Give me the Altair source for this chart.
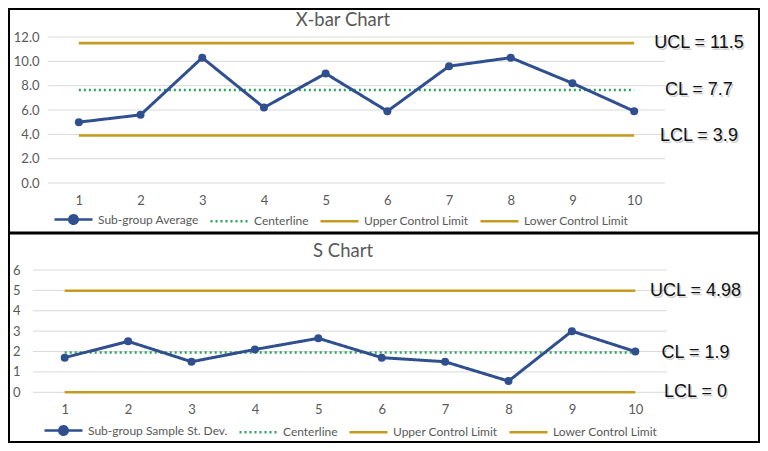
import altair as alt
import pandas as pd

# ---------------- data ----------------
subgroups = [1, 2, 3, 4, 5, 6, 7, 8, 9, 10]

xbar_avg = [5.0, 5.6, 10.3, 6.2, 9.0, 5.9, 9.6, 10.3, 8.2, 5.9]
xbar_ucl = 11.5
xbar_cl = 7.65
xbar_lcl = 3.9
xbar_ticks = [0, 2, 4, 6, 8, 10, 12]
xbar_series = ["Sub-group Average", "Centerline", "Upper Control Limit", "Lower Control Limit"]
xbar_labels = ["UCL = 11.5", "CL = 7.7", "LCL = 3.9"]

s_dev = [1.7, 2.5, 1.5, 2.1, 2.65, 1.7, 1.5, 0.55, 3.0, 2.0]
s_ucl = 4.98
s_cl = 1.95
s_lcl = 0.0
s_ticks = [0, 1, 2, 3, 4, 5, 6]
s_series = ["Sub-group Sample St. Dev.", "Centerline", "Upper Control Limit", "Lower Control Limit"]
s_labels = ["UCL = 4.98", "CL = 1.9", "LCL = 0"]

# ---------------- style ----------------
BLUE = "#2F4F8F"
GREEN = "#2BA35A"
GOLD = "#C39C1E"
GRID = "#D9D9D9"
TEXT = "#595959"
FONT = "Lato"
MARKER = "M-1,0L1,0M-0.22,0A0.22,0.22,0,1,0,0.22,0A0.22,0.22,0,1,0,-0.22,0Z"


def panel(series, main_vals, ucl, cl, lcl, ticks, tick_fmt, labels, title_text,
          xr, yr, xoff, yoff, lx, ly, tx, ty, label_x, frame=False):
    n = len(subgroups)
    df = pd.DataFrame({
        "subgroup": subgroups * 4,
        "value": list(main_vals) + [cl] * n + [ucl] * n + [lcl] * n,
        "series": sum([[s] * n for s in series], []),
    })
    xs = alt.Scale(domain=[0.5, 10.5], range=xr, nice=False, zero=False)
    ys = alt.Scale(domain=[ticks[0], ticks[-1]], range=yr, nice=False, zero=False)
    xax = alt.Axis(orient="bottom", offset=xoff, values=subgroups, format="d", title=None,
                   domain=False, ticks=False, tickSize=0, grid=False, labelPadding=4,
                   labelFont=FONT, labelFontSize=13, labelColor=TEXT)
    yax = alt.Axis(orient="left", offset=yoff, values=ticks, format=tick_fmt, title=None,
                   domain=False, ticks=False, tickSize=0, grid=False, labelPadding=0,
                   labelFont=FONT, labelFontSize=13, labelColor=TEXT)

    leg = alt.Legend(
        orient="none", legendX=lx, legendY=ly, direction="horizontal", title=None,
        symbolSize=1444, symbolStrokeWidth=2.6,
        symbolType=alt.ExprRef(f"datum.value === '{series[0]}' ? '{MARKER}' : 'stroke'"),
        symbolFillColor=alt.ExprRef(f"datum.value === '{series[0]}' ? '{BLUE}' : 'transparent'"),
        labelFont=FONT, labelFontSize=12, labelColor=TEXT, labelOffset=4,
        columnPadding=6, padding=0, rowPadding=0,
    )
    color = alt.Color("series:N", scale=alt.Scale(domain=series, range=[BLUE, GREEN, GOLD, GOLD]), legend=leg)
    dash = alt.StrokeDash("series:N", scale=alt.Scale(domain=series, range=[[1, 0], [2, 3], [1, 0], [1, 0]]), legend=leg)

    grid = alt.Chart(pd.DataFrame({"g": ticks})).mark_rule(color=GRID, strokeWidth=1).encode(
        x=alt.X(datum=0.5, type="quantitative", scale=xs, axis=xax),
        x2=alt.X2(datum=10.5),
        y=alt.Y("g:Q", scale=ys, axis=yax),
    )
    base = alt.Chart(df).encode(
        x=alt.X("subgroup:Q", scale=xs, axis=xax),
        y=alt.Y("value:Q", scale=ys, axis=yax),
        color=color,
        strokeDash=dash,
    )
    limits = base.transform_filter(alt.datum.series != series[0]).mark_line(strokeWidth=2.6)
    main = base.transform_filter(alt.datum.series == series[0]).mark_line(strokeWidth=3)
    pts = alt.Chart(df).transform_filter(alt.datum.series == series[0]).mark_point(
        filled=True, size=64, opacity=1).encode(
        x=alt.X("subgroup:Q", scale=xs, axis=xax),
        y=alt.Y("value:Q", scale=ys, axis=yax),
        color=alt.value(BLUE),
    )
    lab_df = pd.DataFrame({"value": [ucl, cl, lcl], "text": labels})
    lab_enc = dict(
        x=alt.X(datum=label_x, type="quantitative", scale=xs, axis=xax),
        y=alt.Y("value:Q", scale=ys, axis=yax),
        text="text:N",
    )
    shadow = alt.Chart(lab_df).mark_text(font="Liberation Sans", fontSize=18, align="center",
                                         baseline="middle", color="#000000", opacity=0.18,
                                         dx=1.5, dy=2).encode(**lab_enc)
    labs = alt.Chart(lab_df).mark_text(font="Liberation Sans", fontSize=18, align="center",
                                       baseline="middle", color="#111111").encode(**lab_enc)
    title = alt.Chart(pd.DataFrame({"t": [title_text]})).mark_text(
        font=FONT, fontSize=18.5, color=TEXT, align="center", baseline="middle").encode(
        x=alt.value(tx), y=alt.value(ty), text="t:N")
    layers = [grid, limits, main, pts, shadow, labs, title]
    if frame:
        one = pd.DataFrame({"k": [0]})
        box = alt.Chart(one).mark_rect(fillOpacity=0, stroke="#000000", strokeWidth=2).encode(
            x=alt.value(1), x2=alt.value(751), y=alt.value(1), y2=alt.value(434))
        sep = alt.Chart(one).mark_rule(color="#000000", strokeWidth=3).encode(
            x=alt.value(0), x2=alt.value(752), y=alt.value(225))
        layers += [box, sep]
    return alt.layer(*layers)


top = panel(xbar_series, xbar_avg, xbar_ucl, xbar_cl, xbar_lcl, xbar_ticks, ".1f", xbar_labels,
            "X-bar Chart", xr=[40, 657], yr=[175, 29], xoff=-253, yoff=-31,
            lx=45, ly=191, tx=335, ty=11.5, label_x=11.05, frame=True)
bottom = panel(s_series, s_dev, s_ucl, s_cl, s_lcl, s_ticks, "d", s_labels,
               "S Chart", xr=[25, 659], yr=[384.3, 262], xoff=-44, yoff=-12,
               lx=35, ly=402, tx=335, ty=242.7, label_x=10.95)

chart = alt.layer(top, bottom).resolve_scale(
    x="independent", y="independent", color="independent", strokeDash="independent"
).properties(
    width=752, height=435, padding=0, autosize=alt.AutoSizeParams(type="none")
).configure_view(strokeOpacity=0)

chart.save("out.html", embed_options={"renderer": "svg", "actions": False})
